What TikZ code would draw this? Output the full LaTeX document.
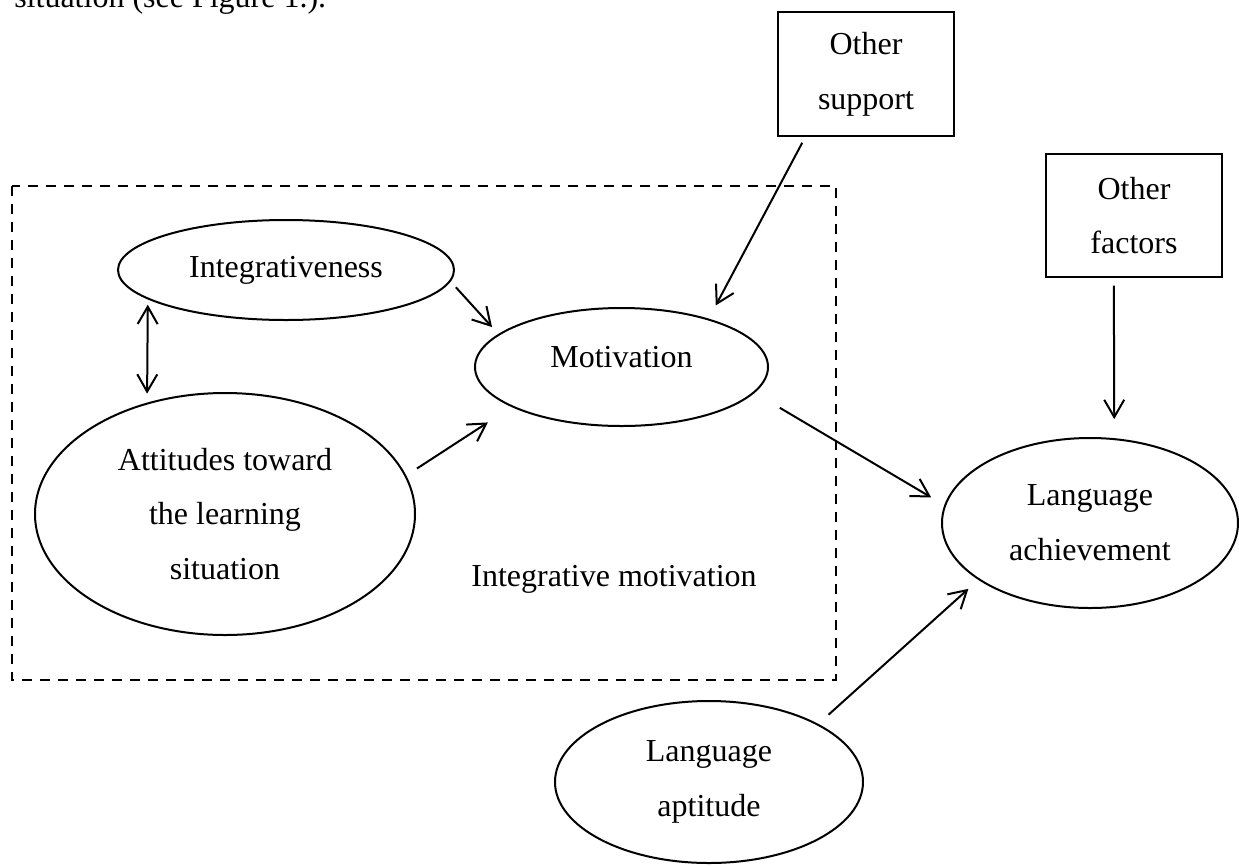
\documentclass[tikz,border=0pt]{standalone}
\usepackage{fontspec}
\setmainfont{Liberation Serif}
\usetikzlibrary{shapes.geometric,arrows.meta}
\begin{document}
\begin{tikzpicture}[x=0.75pt,y=-0.75pt,
  every node/.style={font=\fontsize{24}{41}\selectfont},
  oval/.style={draw,ellipse,line width=1.5pt,inner sep=0pt,align=center},
  boxnode/.style={draw,rectangle,line width=1pt,inner sep=0pt,align=center},
  arr/.style={line width=1.5pt,-{Straight Barb[length=13pt,width=15pt]}},
  darr/.style={line width=1.5pt,{Straight Barb[length=13pt,width=15pt]}-{Straight Barb[length=13pt,width=15pt]}},
  dashbox/.style={line width=1.6pt,dash pattern=on 7.5pt off 6pt}]
\useasboundingbox (0,0) rectangle (1239,865);

\node[anchor=base west,inner sep=0pt] (cap) at (14,7.5) {situation (see Figure 1.).};

\draw[dashbox] (12,186) rectangle (836,680);

\node[oval,minimum width=252pt,minimum height=75pt] (integ) at (286,270) {Integrativeness};
\node[oval,minimum width=219.75pt,minimum height=88.5pt,text height=8pt,text depth=8pt] (motiv) at (621.5,367) {Motivation};
\node[oval,minimum width=285pt,minimum height=181.5pt] (att) at (225,514) {Attitudes toward\\the learning\\situation};
\node[oval,minimum width=222pt,minimum height=127.5pt] (la) at (1090,523) {Language\\achievement};
\node[oval,minimum width=231pt,minimum height=121.5pt] (apt) at (709,782) {Language\\aptitude};
\node[boxnode,minimum width=132pt,minimum height=93pt] (support) at (866,74) {Other\\support};
\node[boxnode,minimum width=132pt,minimum height=92.25pt] (factors) at (1134,215.5) {Other\\factors};
\node (im) at (614,579) {Integrative motivation};

\draw[arr, shorten <=5.8pt, shorten >=7pt] (integ.-4) -- (motiv.165.5);
\draw[arr, shorten <=5.1pt, shorten >=11.2pt] (support.-134) -- (motiv.29.3);
\draw[arr, shorten <=9.6pt, shorten >=21.2pt] (att.12.7) -- (motiv.200.9);
\draw[arr, shorten <=22pt, shorten >=11.4pt] (motiv.-11.3) -- (la.173.2);
\draw[arr, shorten <=10.3pt, shorten >=10pt] (apt.28.2) -- (la.-153.2);
\draw[arr, shorten <=6pt, shorten >=14.3pt] (factors.-108.9) -- (la.74.7);
\draw[darr, shorten <=4pt, shorten >=6.75pt] (integ.-168.8) -- (att.125.7);
\end{tikzpicture}
\end{document}
